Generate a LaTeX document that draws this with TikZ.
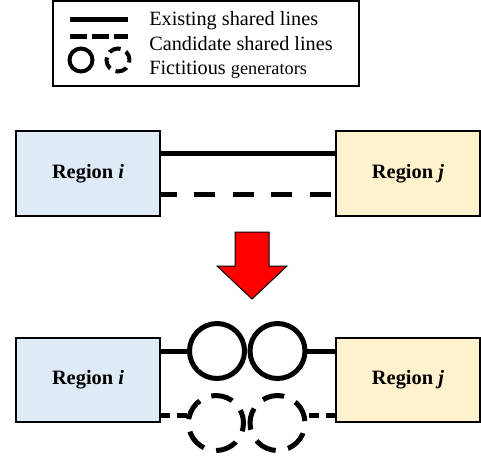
\documentclass[tikz,border=0pt]{standalone}
\usepackage{fontspec}
\setmainfont{Liberation Serif}
\usetikzlibrary{calc}
\definecolor{RegionBlue}{RGB}{222,235,247}
\definecolor{RegionYellow}{RGB}{255,242,204}
\tikzstyle{RegionBox} = [draw=black,line width=1.5pt,minimum width=108pt,minimum height=63.75pt,inner sep=0pt,outer sep=0pt,font=\fontsize{15.3}{18}\selectfont\bfseries]
\tikzstyle{ColorRegionI} = [RegionBox,fill=RegionBlue]
\tikzstyle{ColorRegionJ} = [RegionBox,fill=RegionYellow]
\tikzstyle{ExistLine} = [line width=3.75pt]
\tikzstyle{CandLine} = [line width=3.75pt,dash pattern=on 15.75pt off 13.1pt,dash phase=3pt]
\tikzstyle{CandLineShort} = [line width=3.75pt,dash pattern=on 7.5pt off 5pt]
\tikzstyle{GenSolid} = [circle,draw,line width=3.75pt,minimum size=41.25pt,inner sep=0pt,outer sep=0pt]
\tikzstyle{GenDashed} = [GenSolid,dash pattern=on 16.5pt off 9.42pt]
\tikzstyle{LegendText} = [anchor=base west,inner sep=0pt,font=\fontsize{15.2}{18}\selectfont]
\tikzstyle{ColorArrow} = [fill=red,draw=black,line width=0.75pt,line join=miter]

\begin{document}
\begin{tikzpicture}[x=0.75pt,y=-0.75pt]
\useasboundingbox (0,0) rectangle (481,462);

% legend
\draw[line width=1.1pt] (53,1) rectangle (359,86);
\draw[ExistLine] (70,19) -- (128,19);
\draw[line width=3.75pt,dash pattern=on 12.75pt off 3.75pt] (70,36) -- (128,36);
\node[GenSolid,line width=3pt,minimum size=17.25pt] (lgsolid) at (81,60) {};
\node[GenSolid,line width=3pt,minimum size=17.25pt,dash pattern=on 9pt off 4.5pt,dash phase=2pt] (lgdash) at (118,60) {};
\node[LegendText] (lgexist) at (149,25) {Existing shared lines};
\node[LegendText] (lgcand) at (149,50) {Candidate shared lines};
\node[LegendText] (lgfict) at (149,74) {Fictitious {\fontsize{13.7}{16}\selectfont generators}};

% before
\node[ColorRegionI] (ri1) at (88,173.5) {Region \textit{i}};
\node[ColorRegionJ] (rj1) at (408,173.5) {Region \textit{j}};
\draw[ExistLine] ($(ri1.north east)+(0,22)$) -- ($(rj1.north west)+(0,22)$);
\draw[CandLine] ($(ri1.north east)+(0,63)$) -- ($(rj1.north west)+(0,63)$);

% arrow
\filldraw[ColorArrow] (235,232) -- (269,232) -- (269,266) -- (287,266) -- (252,299) -- (217,266) -- (235,266) -- cycle;

% after
\node[ColorRegionI,minimum height=63pt] (ri2) at (88,380) {Region \textit{i}};
\node[ColorRegionJ,minimum height=63pt] (rj2) at (408,380) {Region \textit{j}};
\node[GenSolid] (g1) at (217,351) {};
\node[GenSolid] (g2) at (277.5,351) {};
\node[GenDashed,dash phase=6.5pt] (c1) at (216,423) {};
\node[GenDashed,dash phase=24.5pt] (c2) at (277.5,423) {};
\draw[ExistLine] (ri2.east |- g1.west) -- (g1.west);
\draw[ExistLine] (g2.east) -- (g2.east -| rj2.west);
\draw[CandLineShort] (c1.165 -| ri2.east) -- (c1.165);
\draw[CandLineShort] (c2.15 -| rj2.west) -- (c2.15);
\end{tikzpicture}
\end{document}
